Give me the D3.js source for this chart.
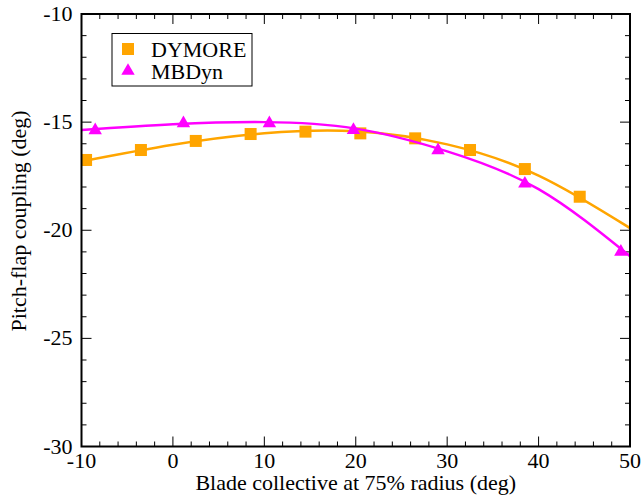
<!DOCTYPE html>
<html>
<head>
<meta charset="utf-8">
<style>
 body {margin: 0; background: #fff;}
 svg {display: block;}
 text {font-family: "Liberation Serif", "Times New Roman", serif;}
</style>
<title>Pitch-flap coupling</title>
</head>
<body>
<div id="chart"></div>
<script src="https://cdn.jsdelivr.net/npm/d3@7/dist/d3.min.js"></script>
<script>
// marker data
var dymoreX = [-9.5, -3.5, 2.5, 8.5, 14.5, 20.5, 26.5, 32.5, 38.5, 44.5];
var dymoreY = [-16.75, -16.29, -15.87, -15.55, -15.44, -15.52, -15.75, -16.29, -17.17, -18.45];
var mbdynX = [-8.5, 1.15, 10.55, 19.75, 29.0, 38.5, 49.0];
var mbdynY = [-15.33, -15.01, -15.01, -15.32, -16.26, -17.8, -20.95];
// fitted curves (read at these abscissae)
var fitX = [-10, 0, 10, 20, 30, 40, 50];
var dymoreFit = [-16.82, -16.05, -15.52, -15.42, -16.03, -17.47, -19.9];
var mbdynFit = [-15.36, -15.1, -15.0, -15.3, -16.35, -18.1, -21.2];
var xTicks = [-10, 0, 10, 20, 30, 40, 50];
var yTicks = [-30, -25, -20, -15, -10];

var width = 641, height = 497;
var pL = 81.5, pR = 630, pT = 14, pB = 446.5;
var fs = 22;

var svg = d3.select("#chart").append("svg")
    .attr("width", width).attr("height", height);

var x = d3.scaleLinear().domain([-10, 50]).range([pL, pR]);
var y = d3.scaleLinear().domain([-30, -10]).range([pB, pT]);

var orange = "#ffa500", magenta = "#ff00ff";

// ticks on all four sides, pointing inward
var xMinor = d3.range(-10, 50.1, 2).filter(function(v){ return v % 10 != 0; });
var yMinor = d3.range(-30, -9.9, 1).filter(function(v){ return v % 5 != 0; });

function tickLines(vals, len, horiz) {
  vals.forEach(function(v){
    if (horiz) {
      svg.append("line").attr("x1", x(v)).attr("x2", x(v)).attr("y1", pB).attr("y2", pB - len)
         .attr("stroke", "#000").attr("stroke-width", 1);
      svg.append("line").attr("x1", x(v)).attr("x2", x(v)).attr("y1", pT).attr("y2", pT + len)
         .attr("stroke", "#000").attr("stroke-width", 1);
    } else {
      svg.append("line").attr("y1", y(v)).attr("y2", y(v)).attr("x1", pL).attr("x2", pL + len)
         .attr("stroke", "#000").attr("stroke-width", 1);
      svg.append("line").attr("y1", y(v)).attr("y2", y(v)).attr("x1", pR).attr("x2", pR - len)
         .attr("stroke", "#000").attr("stroke-width", 1);
    }
  });
}
tickLines(xTicks, 10, true);
tickLines(xMinor, 5, true);
tickLines(yTicks, 10, false);
tickLines(yMinor, 5, false);

// tick labels
svg.selectAll(".xl").data(xTicks).enter().append("text")
   .attr("x", function(d){ return x(d); }).attr("y", pB + 21)
   .attr("text-anchor", "middle").attr("font-size", fs)
   .text(function(d){ return d; });
svg.selectAll(".yl").data(yTicks).enter().append("text")
   .attr("x", pL - 9).attr("y", function(d){ return y(d) + 7; })
   .attr("text-anchor", "end").attr("font-size", fs)
   .text(function(d){ return d; });

// axis titles
svg.append("text").attr("x", (pL + pR) / 2).attr("y", 490)
   .attr("text-anchor", "middle").attr("font-size", fs)
   .text("Blade collective at 75% radius (deg)");
svg.append("text").attr("transform", "translate(26," + 221 + ") rotate(-90)")
   .attr("text-anchor", "middle").attr("font-size", fs)
   .text("Pitch-flap coupling (deg)");

svg.append("clipPath").attr("id", "clip").append("rect")
   .attr("x", pL).attr("y", pT).attr("width", pR - pL).attr("height", pB - pT);
var plot = svg.append("g").attr("clip-path", "url(#clip)");

var line = d3.line().x(function(d){ return x(d[0]); }).y(function(d){ return y(d[1]); })
   .curve(d3.curveNatural);

var tri = d3.symbol().type(d3.symbolTriangle).size(78);

plot.append("path").datum(d3.zip(fitX, dymoreFit)).attr("d", line)
   .attr("fill", "none").attr("stroke", orange).attr("stroke-width", 2.5);
plot.selectAll(".sq").data(d3.zip(dymoreX, dymoreY)).enter().append("rect")
   .attr("x", function(d){ return x(d[0]) - 6; }).attr("y", function(d){ return y(d[1]) - 6; })
   .attr("width", 12).attr("height", 12).attr("fill", orange);
plot.append("path").datum(d3.zip(fitX, mbdynFit)).attr("d", line)
   .attr("fill", "none").attr("stroke", magenta).attr("stroke-width", 2.5);
plot.selectAll(".tr").data(d3.zip(mbdynX, mbdynY)).enter().append("path")
   .attr("d", tri)
   .attr("transform", function(d){ return "translate(" + x(d[0]) + "," + (y(d[1]) + 1) + ")"; })
   .attr("fill", magenta);

// frame
svg.append("rect").attr("x", pL).attr("y", pT).attr("width", pR - pL).attr("height", pB - pT)
   .attr("fill", "none").attr("stroke", "#000").attr("stroke-width", 2);

// legend
var lg = svg.append("g");
lg.append("rect").attr("x", 112).attr("y", 33.5).attr("width", 140).attr("height", 52.5)
   .attr("fill", "#fff").attr("stroke", "#000").attr("stroke-width", 1);
lg.append("rect").attr("x", 122).attr("y", 43).attr("width", 12).attr("height", 12).attr("fill", orange);
lg.append("path").attr("d", tri).attr("transform", "translate(128,71)").attr("fill", magenta);
lg.append("text").attr("x", 151).attr("y", 57).attr("font-size", fs).text("DYMORE");
lg.append("text").attr("x", 151).attr("y", 79).attr("font-size", fs).text("MBDyn");
</script>
</body>
</html>
